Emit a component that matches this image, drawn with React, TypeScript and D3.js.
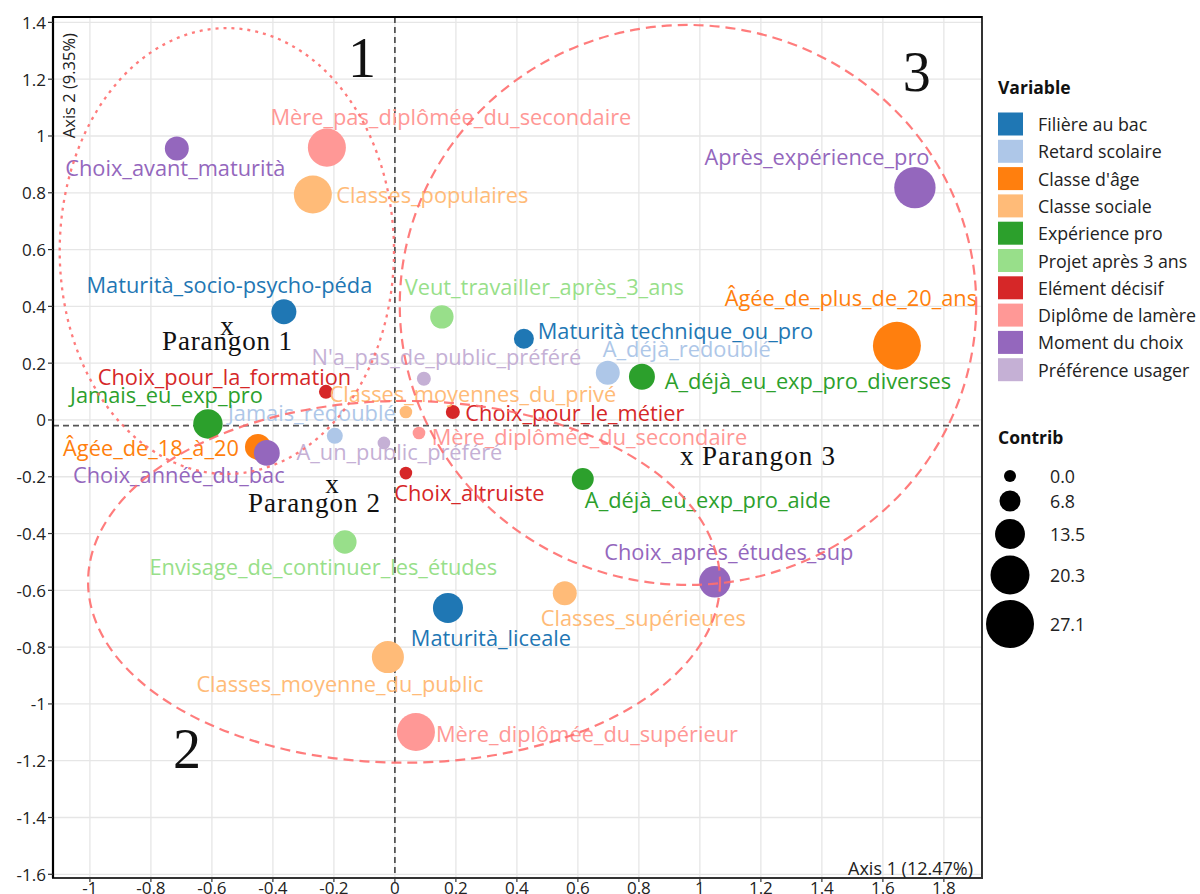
import React from "react";
import * as d3 from "d3";

// ---------- data ----------
const categories = [
  "Filière au bac",
  "Retard scolaire",
  "Classe d'âge",
  "Classe sociale",
  "Expérience pro",
  "Projet après 3 ans",
  "Elément décisif",
  "Diplôme de lamère",
  "Moment du choix",
  "Préférence usager",
];
const palette = [
  "#1f77b4", "#aec7e8", "#ff7f0e", "#ffbb78", "#2ca02c",
  "#98df8a", "#d62728", "#ff9896", "#9467bd", "#c5b0d5",
];

const names = [
  "Choix_avant_maturità",
  "Mère_pas_diplômée_du_secondaire",
  "Classes_populaires",
  "Maturità_socio-psycho-péda",
  "Veut_travailler_après_3_ans",
  "Maturità technique_ou_pro",
  "Âgée_de_plus_de_20_ans",
  "Après_expérience_pro",
  "A_déjà_redoublé",
  "A_déjà_eu_exp_pro_diverses",
  "N'a_pas_de_public_préféré",
  "Choix_pour_la_formation",
  "Classes_moyennes_du_privé",
  "Choix_pour_le_métier",
  "Jamais_eu_exp_pro",
  "Jamais_redoublé",
  "Mère_diplômée_du_secondaire",
  "Âgée_de_18_à_20",
  "Choix_année_du_bac",
  "A_un_public_préféré",
  "Choix_altruiste",
  "A_déjà_eu_exp_pro_aide",
  "Envisage_de_continuer_les_études",
  "Choix_après_études_sup",
  "Classes_supérieures",
  "Maturità_liceale",
  "Classes_moyenne_du_public",
  "Mère_diplômée_du_supérieur",
];
const categoryOf = [8, 7, 3, 0, 5, 0, 2, 8, 1, 4, 9, 6, 3, 6, 4, 1, 7, 2, 8, 9, 6, 4, 5, 8, 3, 0, 3, 7];
const dim1 = [
  -0.715, -0.223, -0.269, -0.364, 0.154, 0.423, 1.646, 1.705, 0.698, 0.81,
  0.095, -0.226, 0.036, 0.19, -0.613, -0.197, 0.079, -0.449, -0.42, -0.036,
  0.036, 0.616, -0.164, 1.049, 0.557, 0.174, -0.023, 0.069,
];
const dim2 = [
  0.956, 0.959, 0.794, 0.381, 0.363, 0.286, 0.261, 0.818, 0.166, 0.152,
  0.145, 0.099, 0.028, 0.028, -0.014, -0.056, -0.046, -0.095, -0.116, -0.081,
  -0.187, -0.208, -0.43, -0.57, -0.61, -0.662, -0.835, -1.099,
];
const contrib = [
  9.0, 19.6, 19.6, 9.8, 8.6, 6.0, 27.1, 22.1, 9.0, 10.5,
  1.5, 1.5, 0.5, 1.5, 13.1, 3.0, 0.5, 10.5, 10.5, 0.5,
  0.5, 7.5, 8.6, 14.6, 9.0, 13.6, 15.1, 19.6,
];
const contribBreaks = [0.0, 6.8, 13.5, 20.3, 27.1];

const xTicks = [-1, -0.8, -0.6, -0.4, -0.2, 0, 0.2, 0.4, 0.6, 0.8, 1, 1.2, 1.4, 1.6, 1.8];
const yTicks = [-1.6, -1.4, -1.2, -1, -0.8, -0.6, -0.4, -0.2, 0, 0.2, 0.4, 0.6, 0.8, 1, 1.2, 1.4];

// cluster ellipses (centre x, centre y, half-width, half-height) in axis units
const clusterCx = [-0.551, 0.03, 0.961];
const clusterCy = [0.595, -0.57, 0.405];
const clusterRx = [0.548, 1.036, 0.945];
const clusterRy = [0.785, 0.637, 0.986];
const clusterNames = ["1", "2", "3"];
const clusterLabelX = [-0.108, -0.682, 1.711];
const clusterLabelY = [1.208, -1.225, 1.158];

// ---------- layout (label nudges in px, relative to the point) ----------
const labelDx = [
  -1.5, 124, 119.5, -54.5, 102.5, 151.5, -46, -98, 79, 166,
  22.5, -101.5, 67, 122, -41.5, -23, 170.5, -107, -88, 15.5,
  63.5, 125, -21.5, 14, 78.5, 43, -48, 171,
];
const labelDy = [
  19, -31, 0, -27, -30, -8, -48, -31, -24, 4,
  -22, -15, -19, 0, -29, -23, 3, 1, 22, 9,
  19, 20, 24, -30, 24, 30, 26, 1,
];

const W = 1200;
const H = 894;
const P = { left: 53, right: 982, top: 17, bottom: 878 };

const fmt = (t: number) => d3.format("~g")(t).replace("\u2212", "-");

export default function App() {
  const x = d3.scaleLinear().domain([-1.121, 1.925]).range([P.left, P.right]);
  const y = d3.scaleLinear().domain([-1.613, 1.419]).range([P.bottom, P.top]);
  const r = d3.scaleLinear().domain([0, 27.1]).range([6, 24]);
  const color = d3.scaleOrdinal<number, string>().domain(d3.range(categories.length)).range(palette);

  const idx = d3.range(names.length).sort((a, b) => categoryOf[a] - categoryOf[b] || a - b);
  const sans = "'Open Sans', 'Noto Sans', sans-serif";
  const serif = "'Liberation Serif', 'DejaVu Serif', serif";
  const hLine = -0.02;

  const legendX = 998;
  const legendRowY = d3.scaleLinear().domain([0, 1]).range([124, 151.3]);
  const sizeLegendY = [476, 501, 534, 575, 624];

  return (
    <svg width={W} height={H} style={{ position: "absolute", left: 0, top: 0, background: "#fff" }}>
      <rect x={0} y={0} width={W} height={H} fill="#fff" />
      <defs>
        <clipPath id="panel">
          <rect x={P.left} y={P.top} width={P.right - P.left} height={P.bottom - P.top} />
        </clipPath>
      </defs>
      {/* grid */}
      <g stroke="#e6e6e6" strokeWidth={1.3}>
        {xTicks.map((t) => (
          <line key={"gx" + t} x1={x(t)} x2={x(t)} y1={P.top} y2={P.bottom} />
        ))}
        {yTicks.map((t) => (
          <line key={"gy" + t} x1={P.left} x2={P.right} y1={y(t)} y2={y(t)} />
        ))}
      </g>
      {/* reference lines */}
      <line x1={x(0)} x2={x(0)} y1={P.top} y2={P.bottom} stroke="#444" strokeWidth={1.6} strokeDasharray="6,4" />
      <line x1={P.left} x2={P.right} y1={y(hLine)} y2={y(hLine)} stroke="#555" strokeWidth={1.6} strokeDasharray="6,4" />

      {/* points */}
      <g clipPath="url(#panel)">
        {idx.map((i) => (
          <circle key={"p" + i} cx={x(dim1[i])} cy={y(dim2[i])} r={r(contrib[i])} fill={color(categoryOf[i])} />
        ))}
        {idx.map((i) => (
          <text
            key={"l" + i}
            x={x(dim1[i]) + labelDx[i]}
            y={y(dim2[i]) + labelDy[i]}
            textAnchor="middle"
            dominantBaseline="central"
            fontFamily={sans}
            fontSize={21.8}
            fill={color(categoryOf[i])}
          >
            {names[i]}
          </text>
        ))}
        {/* ellipses */}
        {clusterCx.map((cx, k) => (
          <ellipse
            key={"e" + k}
            cx={x(cx)}
            cy={y(clusterCy[k])}
            rx={x(cx + clusterRx[k]) - x(cx)}
            ry={y(clusterCy[k] - clusterRy[k]) - y(clusterCy[k])}
            fill="none"
            stroke="#ff6e6e"
            strokeOpacity={0.9}
            strokeWidth={k === 0 ? 2.3 : 2.2}
            strokeDasharray={k === 0 ? "3,5" : "10,6"}
          />
        ))}
      </g>

      {/* cluster numbers */}
      {clusterNames.map((n, k) => (
        <text key={"c" + k} x={x(clusterLabelX[k])} y={y(clusterLabelY[k])} textAnchor="middle" fontFamily={serif} fontSize={56} fill="#111">
          {n}
        </text>
      ))}
      {/* parangons */}
      <g fontFamily={serif} fontSize={27} fill="#111">
        <text x={227} y={335} textAnchor="middle">x</text>
        <text x={227} y={350} textAnchor="middle" textLength={130}>Parangon 1</text>
        <text x={332} y={493} textAnchor="middle">x</text>
        <text x={314} y={512} textAnchor="middle" textLength={132}>Parangon 2</text>
        <text x={680} y={465}>x</text>
        <text x={702} y={465} textLength={133}>Parangon 3</text>
      </g>

      {/* frame */}
      <rect x={P.left} y={P.top} width={P.right - P.left} height={P.bottom - P.top} fill="none" stroke="#333" strokeWidth={2} />
      <line x1={P.left} x2={P.left} y1={P.top} y2={P.bottom} stroke="#000" strokeWidth={2.2} />
      <line x1={P.left} x2={P.right} y1={P.top} y2={P.top} stroke="#000" strokeWidth={2.2} />

      {/* axes */}
      <g fontFamily={sans} fontSize={17} fill="#222">
        {yTicks.map((t) => (
          <g key={"yt" + t}>
            <line x1={P.left - 5} x2={P.left} y1={y(t)} y2={y(t)} stroke="#333" strokeWidth={1.2} />
            <text x={P.left - 7} y={y(t)} textAnchor="end" dominantBaseline="central">
              {fmt(t)}
            </text>
          </g>
        ))}
        {xTicks.map((t) => (
          <g key={"xt" + t}>
            <line x1={x(t)} x2={x(t)} y1={P.bottom} y2={P.bottom + 4} stroke="#333" strokeWidth={1.2} />
            <text x={x(t)} y={894} textAnchor="middle">
              {fmt(t)}
            </text>
          </g>
        ))}
      </g>
      <text x={973} y={875} textAnchor="end" fontFamily={sans} fontSize={18} fill="#222">
        Axis 1 (12.47%)
      </text>
      <text transform={`translate(75,33) rotate(-90)`} textAnchor="end" fontFamily={sans} fontSize={16.5} fill="#222">
        Axis 2 (9.35%)
      </text>

      {/* legend: Variable */}
      <g fontFamily={sans}>
        <text x={legendX} y={87} dominantBaseline="central" fontSize={17.5} fontWeight="bold" fill="#111">
          Variable
        </text>
        {categories.map((c, k) => (
          <g key={"lg" + k}>
            <rect x={legendX} y={legendRowY(k) - 11.5} width={25} height={23} fill={palette[k]} />
            <text x={1038} y={legendRowY(k)} dominantBaseline="central" fontSize={17.8} fill="#222">
              {c}
            </text>
          </g>
        ))}
        <text x={legendX} y={437} dominantBaseline="central" fontSize={17.5} fontWeight="bold" fill="#111">
          Contrib
        </text>
        {contribBreaks.map((b, k) => (
          <g key={"sz" + k}>
            <circle cx={1010} cy={sizeLegendY[k]} r={r(b)} fill="#000" />
            <text x={1050} y={sizeLegendY[k]} dominantBaseline="central" fontSize={17.8} fill="#222">
              {b.toFixed(1)}
            </text>
          </g>
        ))}
      </g>
    </svg>
  );
}
